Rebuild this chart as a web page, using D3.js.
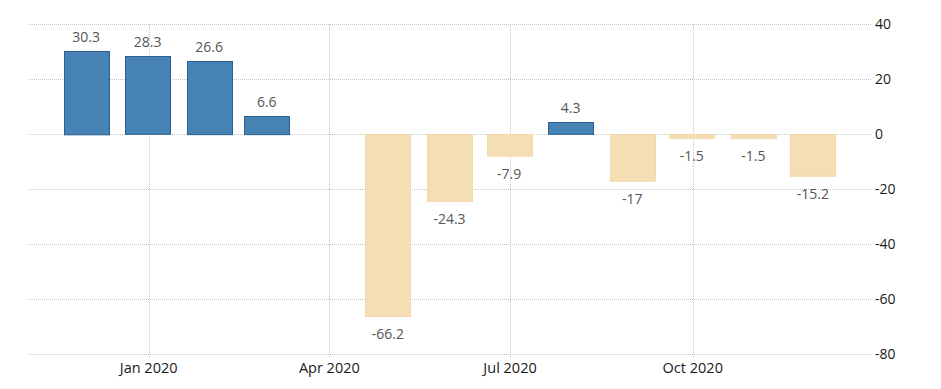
<!DOCTYPE html>
<html>
<head>
<meta charset="utf-8">
<script src="https://cdn.jsdelivr.net/npm/d3@7"></script>
<style>
  body { margin: 0; background: #fff; }
  svg { display: block; }
</style>
</head>
<body>
<svg id="chart" width="941" height="389"></svg>
<script>
// Data
const months = ["2019-12", "2020-01", "2020-02", "2020-03", "2020-05", "2020-06", "2020-07", "2020-08", "2020-09", "2020-10", "2020-11", "2020-12"];
const values = [30.3, 28.3, 26.6, 6.6, -66.2, -24.3, -7.9, 4.3, -17, -1.5, -1.5, -15.2];
const yTicks = [40, 20, 0, -20, -40, -60, -80];
const xTickDates = ["2020-01", "2020-04", "2020-07", "2020-10"];

(function () {
const parse = d3.timeParse("%Y-%m");
const data = months.map((m, i) => ({ date: parse(m), value: values[i] }));

const svg = d3.select("#chart");
const mLeft = 28, mRight = 872, mTop = 24, mBottom = 354;

const x = d3.scaleTime()
  .domain([new Date(2019, 10, 1), new Date(2020, 11, 30)])
  .range([27.5, 871.5]);
const y = d3.scaleLinear().domain([-80, 40]).range([mBottom, mTop]);

const font = "'Open Sans', 'DejaVu Sans', sans-serif";

// horizontal grid
svg.append("g").selectAll("line").data(yTicks).join("line")
  .attr("x1", mLeft).attr("x2", mRight)
  .attr("y1", d => Math.round(y(d)) + 0.5).attr("y2", d => Math.round(y(d)) + 0.5)
  .attr("stroke", "#c4c4c4").attr("stroke-width", 1).attr("stroke-dasharray", "1,1");

// vertical grid
svg.append("g").selectAll("line").data(xTickDates.map(parse)).join("line")
  .attr("x1", d => Math.round(x(d)) + 0.5).attr("x2", d => Math.round(x(d)) + 0.5)
  .attr("y1", mTop).attr("y2", mBottom + 4)
  .attr("stroke", "#c4c4c4").attr("stroke-width", 1).attr("stroke-dasharray", "1,1");

// bars
const barW = 45;
svg.append("g").selectAll("rect").data(data).join("rect")
  .attr("x", d => Math.round(x(d.date) - barW / 2 - 1) + 0.5)
  .attr("width", barW)
  .attr("y", d => Math.round(Math.min(y(d.value), y(0))) + 0.5)
  .attr("height", d => Math.abs(y(d.value) - y(0)))
  .attr("fill", d => d.value >= 0 ? "#4682b4" : "#f5deb3")
  .attr("stroke", d => d.value >= 0 ? "#2d5f90" : "#f2d9ab")
  .attr("stroke-width", 1);

// value labels
svg.append("g").selectAll("text").data(data).join("text")
  .attr("x", d => x(d.date) - 1)
  .attr("y", d => d.value >= 0 ? y(d.value) - 9 : y(d.value) + 23)
  .attr("text-anchor", "middle")
  .attr("font-family", font).attr("font-size", 14)
  .attr("fill", "#555")
  .text(d => String(d.value));

// y axis labels (right)
svg.append("g").selectAll("text").data(yTicks).join("text")
  .attr("x", 875)
  .attr("y", d => y(d) + 5)
  .attr("font-family", font).attr("font-size", 14)
  .attr("fill", "#1a1a1a")
  .text(d => String(d));

// x axis labels
const fmt = d3.timeFormat("%b %Y");
svg.append("g").selectAll("text").data(xTickDates.map(parse)).join("text")
  .attr("x", d => x(d))
  .attr("y", 373)
  .attr("text-anchor", "middle")
  .attr("font-family", font).attr("font-size", 14.5)
  .attr("fill", "#1a1a1a")
  .text(d => fmt(d));
})();
</script>
</body>
</html>
